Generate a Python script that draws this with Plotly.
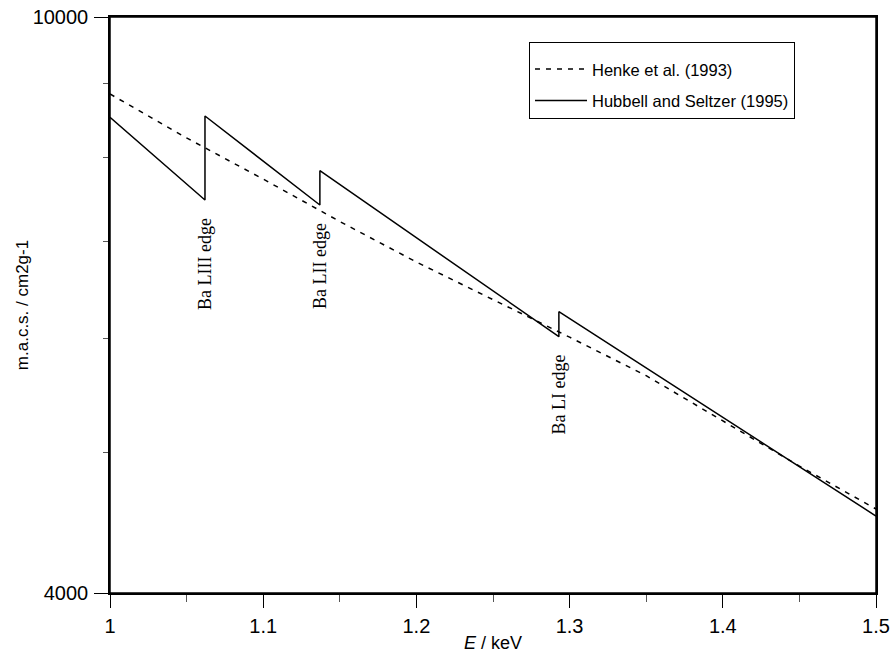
import math
import plotly.graph_objects as go

# Henke et al. (1993) — smooth curve
henke_E = [1.00, 1.05, 1.10, 1.15, 1.20, 1.25, 1.30, 1.35, 1.40, 1.45, 1.50]
henke_mu = [8847, 8250, 7727, 7223, 6772, 6379, 6009, 5652, 5261, 4895, 4572]

# Hubbell and Seltzer (1995) — with absorption edges
hub_E = [1.000, 1.062, 1.062, 1.137, 1.137, 1.293, 1.293, 1.500]
hub_mu = [8525, 7474, 8543, 7415, 7831, 6014, 6258, 4521]

# Edge labels
edge_labels = ["Ba LIII edge", "Ba LII edge", "Ba LI edge"]
edge_E = [1.062, 1.137, 1.293]
edge_mu = [7474, 7415, 6014]

x_ticks = [1.0, 1.1, 1.2, 1.3, 1.4, 1.5]
x_ticktext = ["1", "1.1", "1.2", "1.3", "1.4", "1.5"]
x_minor = [1.05, 1.15, 1.25, 1.35, 1.45]
y_ticks = [4000, 10000]
y_ticktext = ["4000", "10000"]
y_minor = [5000, 6000, 7000, 8000, 9000]

fig = go.Figure()
fig.add_trace(go.Scatter(
    x=henke_E, y=henke_mu, mode="lines", name="Henke et al. (1993)",
    line=dict(color="black", width=1.5, dash="5px,6px"), legendgroup="a"))
fig.add_trace(go.Scatter(
    x=hub_E, y=hub_mu, mode="lines", name="Hubbell and Seltzer (1995)",
    line=dict(color="black", width=1.5), legendgroup="b"))

for lab, e, m in zip(edge_labels, edge_E, edge_mu):
    fig.add_annotation(
        x=e, y=math.log10(m), xref="x", yref="y", text=lab, showarrow=False,
        textangle=-90, xanchor="center", yanchor="top", yshift=-16,
        font=dict(family="Liberation Serif", size=18, color="black"))

# plot frame
fig.add_shape(type="rect", xref="paper", yref="paper", x0=0, x1=1, y0=0, y1=1,
              line=dict(color="black", width=1.5), layer="above")

axis_font = dict(family="Liberation Sans, Arial", size=20, color="black")
title_font = dict(family="Liberation Sans, Arial", size=18, color="black")

fig.update_xaxes(
    range=[1.0, 1.5], tickvals=x_ticks, ticktext=x_ticktext,
    ticks="outside", ticklen=13, tickwidth=1, tickcolor="black",
    showline=True, linecolor="black", linewidth=1.5, mirror=True,
    showgrid=False, zeroline=False, tickfont=axis_font,
    ticklabelstandoff=1, automargin=False, ticklabeloverflow="allow",
    minor=dict(tickvals=x_minor, ticks="outside", ticklen=7, tickwidth=1,
               tickcolor="#555", showgrid=False),
    title=dict(text="<i>E</i> / keV", font=title_font, standoff=1))

fig.update_yaxes(
    type="log", range=[math.log10(4000), 4.0], tickvals=y_ticks, ticktext=y_ticktext,
    ticks="outside", ticklen=14, tickwidth=1, tickcolor="black",
    showline=True, linecolor="black", linewidth=1.5, mirror=True,
    showgrid=False, zeroline=False, tickfont=axis_font,
    ticklabelstandoff=2, automargin=False, ticklabeloverflow="allow",
    minor=dict(tickvals=y_minor, ticks="outside", ticklen=5, tickwidth=1,
               tickcolor="#555", showgrid=False),
    title=dict(text="m.a.c.s. / cm2g-1", font=dict(family="Liberation Sans, Arial", size=17, color="black"), standoff=0))

fig.update_layout(
    width=892, height=659,
    margin=dict(l=110, r=16, t=17, b=66, autoexpand=False),
    paper_bgcolor="white", plot_bgcolor="white",
    showlegend=True,
    legend=dict(x=0.547, y=0.957, xanchor="left", yanchor="top",
                bordercolor="black", borderwidth=1, bgcolor="white",
                font=dict(family="Liberation Sans, Arial", size=16.5, color="black"),
                title=dict(text=" ", font=dict(size=7)),
                tracegroupgap=7, itemwidth=52))

# remove the default 8px page margin so the figure fills the window exactly
fig.write_html("out.html", config={"displayModeBar": False},
               post_script="document.body.style.margin='0';")
